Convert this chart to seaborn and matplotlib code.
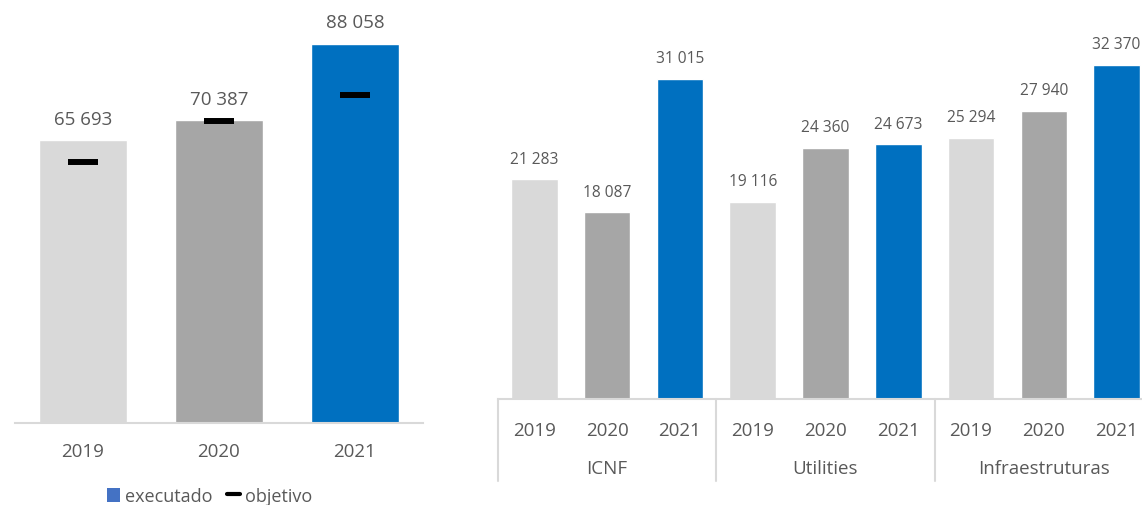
import matplotlib
matplotlib.use("Agg")
import matplotlib.pyplot as plt
import seaborn as sns
import pandas as pd
from matplotlib.patches import Patch
from matplotlib.lines import Line2D

# ---- data ----
years = ["2019", "2020", "2021"]
executado = [65693, 70387, 88058]
objetivo = [60600, 70150, 76200]

groups = ["ICNF", "Utilities", "Infraestruturas"]
icnf = [21283, 18087, 31015]
utilities = [19116, 24360, 24673]
infra = [25294, 27940, 32370]

colors = ["#D9D9D9", "#A6A6A6", "#0070C0"]
txt = "#595959"
axis_col = "#D9D9D9"

sns.set_theme(style="white")
plt.rcParams["font.family"] = ["Open Sans", "DejaVu Sans"]

W, H = 1142, 506
fig = plt.figure(figsize=(W / 100, H / 100), dpi=100)

def fmt(v):
    return f"{v:,.0f}".replace(",", " ")

# ---- left chart ----
axL = fig.add_axes([15 / W, (H - 424) / H, 408 / W, 424 / H])
dfL = pd.DataFrame({"ano": years, "executado": executado})
sns.barplot(data=dfL, x="ano", y="executado", hue="ano", palette=colors,
            width=0.647, legend=False, ax=axL, saturation=1)
axL.set_ylim(0, 424 / 4.304 * 1000)
axL.set_xlim(-0.5, 2.5)
axL.plot(range(3), objetivo, linestyle="none", marker="_", markersize=21.6,
         markeredgewidth=4.3, color="black", zorder=5)
for c in axL.containers:
    axL.bar_label(c, labels=[fmt(v) for v in c.datavalues], padding=9,
                  fontsize=13.5, color=txt)
for s in ["left", "right", "top"]:
    axL.spines[s].set_visible(False)
axL.spines["bottom"].set_color(axis_col)
axL.spines["bottom"].set_linewidth(1.5)
axL.set_yticks([])
axL.set_xlabel("")
axL.set_ylabel("")
axL.tick_params(axis="x", length=0, pad=14, labelsize=13.5, labelcolor=txt)

# ---- right chart ----
cats = [f"{g}|{y}" for g in groups for y in years]
vals = icnf + utilities + infra
dfR = pd.DataFrame({"cat": cats, "ano": years * 3, "valor": vals})
axR = fig.add_axes([498 / W, (H - 400) / H, 655 / W, 400 / H])
sns.barplot(data=dfR, x="cat", y="valor", hue="ano", palette=colors,
            dodge=False, width=0.64, legend=False, ax=axR, saturation=1)
axR.set_ylim(0, 400 / 10.32 * 1000)
axR.set_xlim(-0.5, 8.5)
for c in axR.containers:
    axR.bar_label(c, labels=[fmt(v) for v in c.datavalues], padding=9,
                  fontsize=11.2, color=txt)
for s in ["left", "right", "top"]:
    axR.spines[s].set_visible(False)
axR.spines["bottom"].set_color(axis_col)
axR.spines["bottom"].set_linewidth(1.5)
axR.set_yticks([])
axR.set_xticks(range(9))
axR.set_xticklabels(years * 3)
axR.set_xlabel("")
axR.set_ylabel("")
axR.tick_params(axis="x", length=0, pad=16, labelsize=13.5, labelcolor=txt)
trans = axR.get_xaxis_transform()
for i in range(4):
    axR.plot([i * 3 - 0.5, i * 3 - 0.5], [0, -82 / 400], transform=trans,
             color=axis_col, lw=1.5, clip_on=False)
for i, g in enumerate(groups):
    axR.text(i * 3 + 1, -69 / 400, g, transform=trans, ha="center",
             va="center", fontsize=13.5, color=txt)

# ---- legend ----
handles = [Patch(facecolor="#4472C4", edgecolor="none"),
           Line2D([0], [0], color="black", lw=3)]
fig.legend(handles, ["executado", "objetivo"], loc="center",
           bbox_to_anchor=(210 / W, 1 - 497 / H), ncol=2, frameon=False,
           fontsize=13, labelcolor=txt, handlelength=0.7, handleheight=0.8,
           handletextpad=0.3, columnspacing=0.8, borderpad=0)

fig.savefig("out.png", dpi=100)
